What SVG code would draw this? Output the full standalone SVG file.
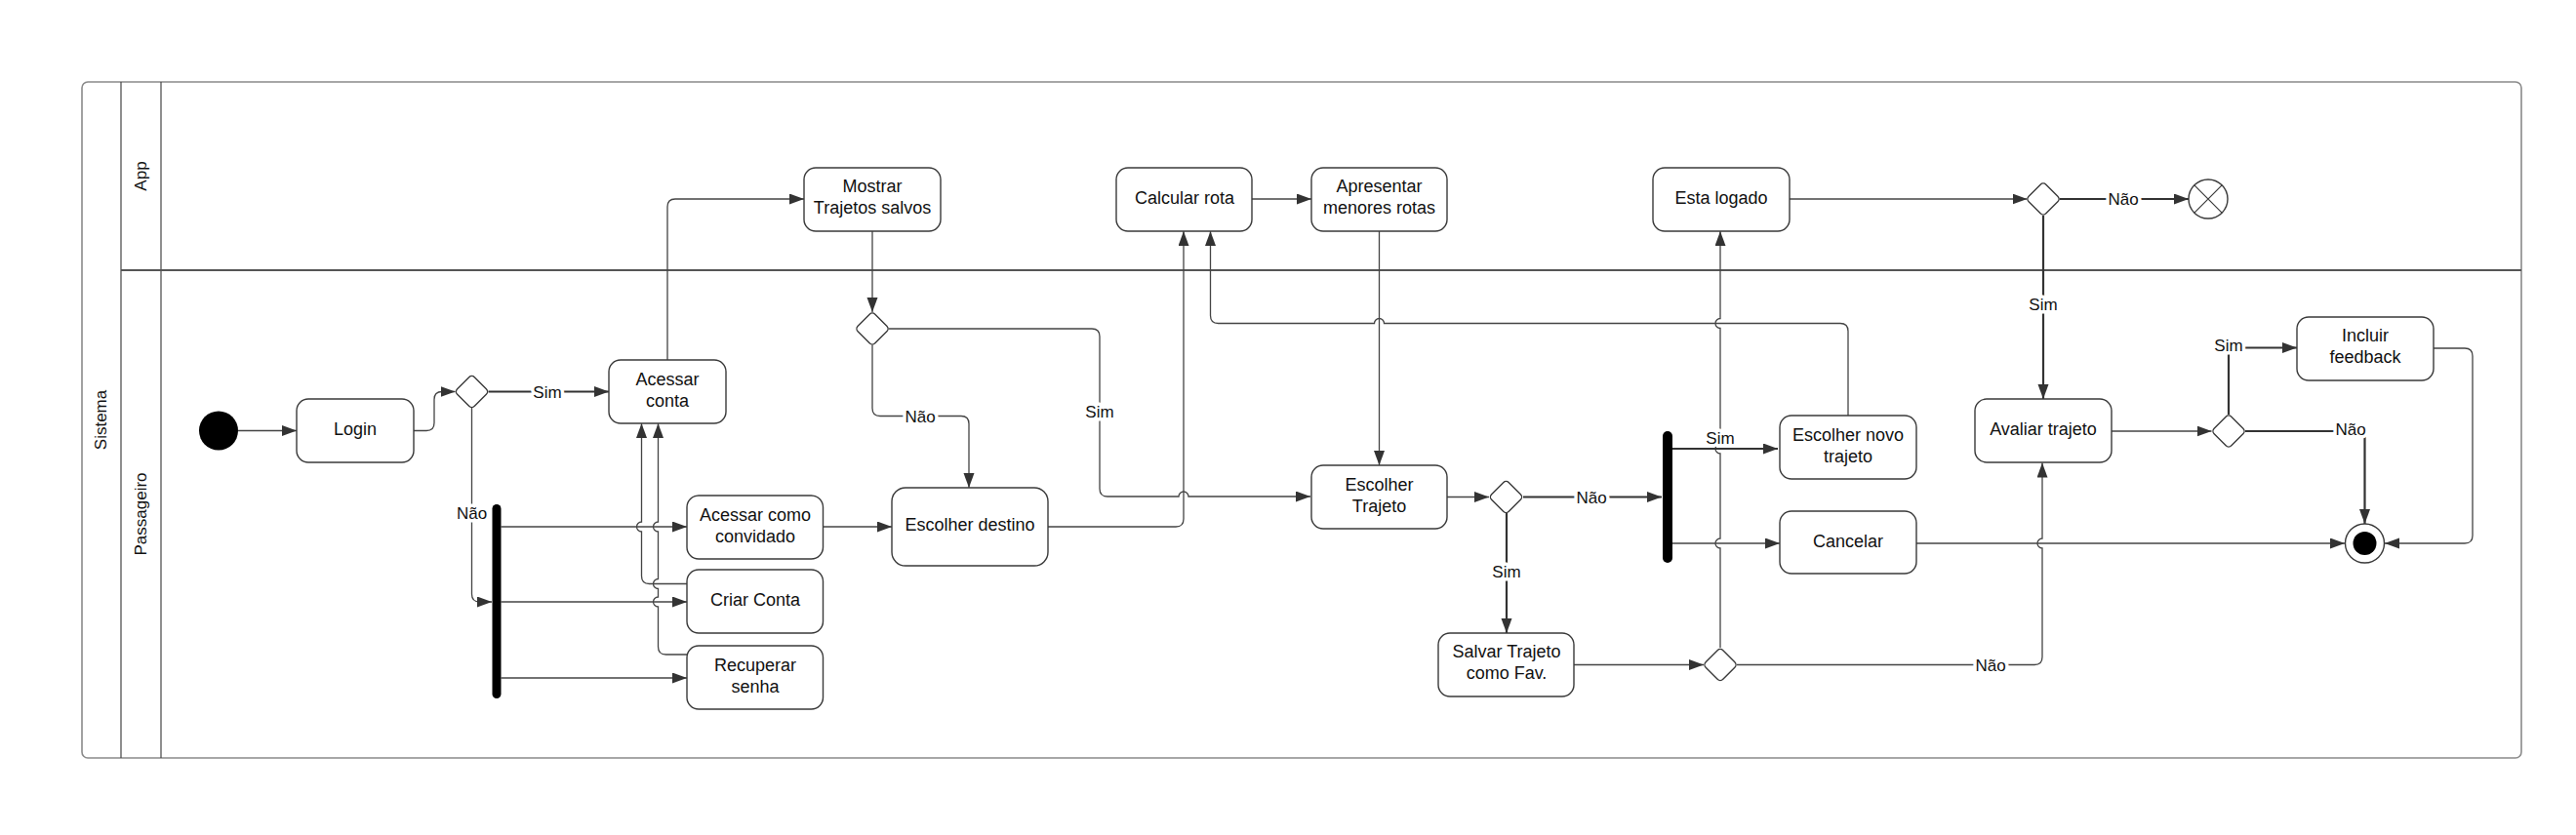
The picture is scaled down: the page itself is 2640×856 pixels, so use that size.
<svg xmlns="http://www.w3.org/2000/svg" width="2640" height="856" viewBox="0 0 2640 856">
<style>
.bg{fill:#fff}
.frame{fill:none;stroke:#8a8a8a;stroke-width:1.6}
.sep{stroke:#444;stroke-width:1.2}
.lane{stroke:#555;stroke-width:2}
.box{fill:#fff;stroke:#3a3a3a;stroke-width:1.4}
.dia{fill:#fff;stroke:#3a3a3a;stroke-width:1.4}
.t{font-family:"Liberation Sans",Arial,sans-serif;font-size:18px;fill:#111;text-anchor:middle}
.hd{font-family:"Liberation Sans",Arial,sans-serif;font-size:17px;fill:#111;text-anchor:middle}
.lbl{font-family:"Liberation Sans",Arial,sans-serif;font-size:17px;fill:#111;text-anchor:middle;paint-order:stroke;stroke:#fff;stroke-width:7px;stroke-linejoin:round}
.c{fill:none;stroke:#444;stroke-width:1.3}
.ck{fill:none;stroke:#333;stroke-width:2.2}
.bar{fill:#000}
</style>
<defs>
<marker id="ah" markerUnits="userSpaceOnUse" markerWidth="16" markerHeight="12" refX="15" refY="5.5" orient="auto">
<path d="M0,0 L15,5.5 L0,11 z" fill="#333"/>
</marker>
</defs>
<rect class="bg" x="0" y="0" width="2640" height="856"/>

<g id="pool">
<rect class="frame" x="84" y="84" width="2500" height="693" rx="6"/>
<line class="sep" x1="124" y1="84" x2="124" y2="777"/>
<line class="sep" x1="165" y1="84" x2="165" y2="777"/>
<line class="lane" x1="124" y1="277" x2="2584" y2="277"/>
<text class="hd" transform="translate(109,430.5) rotate(-90)">Sistema</text>
<text class="hd" transform="translate(150,180.5) rotate(-90)">App</text>
<text class="hd" transform="translate(150,527) rotate(-90)">Passageiro</text>
</g>

<g id="connectors">
<path class="c" d="M244,441.5 H304" marker-end="url(#ah)"/>
<path class="c" d="M424,441.5 H437 Q445,441.5 445,433.5 V409.5 Q445,401.5 453,401.5 H466.5" marker-end="url(#ah)"/>
<path class="ck" d="M500.5,401.5 H624" marker-end="url(#ah)"/>
<path class="c" d="M483.5,418 V609 Q483.5,617 491.5,617 H504" marker-end="url(#ah)"/>
<path class="c" d="M513.5,540 H704" marker-end="url(#ah)"/>
<path class="c" d="M513.5,617 H704" marker-end="url(#ah)"/>
<path class="c" d="M513.5,695 H704" marker-end="url(#ah)"/>
<path class="c" d="M704,598.5 H665.5 Q657.5,598.5 657.5,590.5 V545 A5,5 0 0 1 657.5,535 V434" marker-end="url(#ah)"/>
<path class="c" d="M704,671 H682.5 Q674.5,671 674.5,663 V622 A5,5 0 0 1 674.5,612 V603.5 A5,5 0 0 1 674.5,593.5 V545 A5,5 0 0 1 674.5,535 V434" marker-end="url(#ah)"/>
<path class="c" d="M684,369 V212 Q684,204 692,204 H824" marker-end="url(#ah)"/>
<path class="c" d="M894,237 V320" marker-end="url(#ah)"/>
<path class="c" d="M910.5,337 H1119 Q1127,337 1127,345 V501 Q1127,509 1135,509 H1208 A5,5 0 0 1 1218,509 H1343" marker-end="url(#ah)"/>
<path class="c" d="M894,353.5 V418.5 Q894,426.5 902,426.5 H985 Q993,426.5 993,434.5 V500" marker-end="url(#ah)"/>
<path class="c" d="M843.5,540 H914" marker-end="url(#ah)"/>
<path class="c" d="M1074,540 H1205 Q1213,540 1213,532 V237" marker-end="url(#ah)"/>
<path class="c" d="M1283,204 H1344" marker-end="url(#ah)"/>
<path class="c" d="M1413.5,237 V477" marker-end="url(#ah)"/>
<path class="c" d="M1483,509.5 H1526" marker-end="url(#ah)"/>
<path class="ck" d="M1561,509.5 H1703" marker-end="url(#ah)"/>
<path class="ck" d="M1544,526 V649" marker-end="url(#ah)"/>
<path class="c" d="M1613,681.5 H1746" marker-end="url(#ah)"/>
<path class="c" d="M1763,664 V562 A5,5 0 0 1 1763,552 V465 A5,5 0 0 1 1763,455 V336.5 A5,5 0 0 1 1763,326.5 V237" marker-end="url(#ah)"/>
<path class="c" d="M1780,681.5 H2085 Q2093,681.5 2093,673.5 V562 A5,5 0 0 1 2093,552 V474.5" marker-end="url(#ah)"/>
<path class="ck" d="M1714,460 H1822" marker-end="url(#ah)"/>
<path class="c" d="M1714,557 H1824" marker-end="url(#ah)"/>
<path class="c" d="M1894,426 V339.5 Q1894,331.5 1886,331.5 H1418.5 A5,5 0 0 0 1408.5,331.5 H1248.5 Q1240.5,331.5 1240.5,323.5 V237" marker-end="url(#ah)"/>
<path class="c" d="M1834,204 H2077.5" marker-end="url(#ah)"/>
<path class="ck" d="M2110.5,204 H2243" marker-end="url(#ah)"/>
<path class="ck" d="M2094,221 V409" marker-end="url(#ah)"/>
<path class="c" d="M2164,442 H2266.5" marker-end="url(#ah)"/>
<path class="ck" d="M2284,425 V356.5 H2354" marker-end="url(#ah)"/>
<path class="ck" d="M2301,442 H2423.5 V537" marker-end="url(#ah)"/>
<path class="c" d="M2494,357 H2526 Q2534,357 2534,365 V549 Q2534,557 2526,557 H2444" marker-end="url(#ah)"/>
<path class="c" d="M1964,557 H2403" marker-end="url(#ah)"/>
<text class="lbl" x="561" y="407.5">Sim</text>
<text class="lbl" x="483.5" y="532">Não</text>
<text class="lbl" x="1127" y="427.5">Sim</text>
<text class="lbl" x="943" y="432.5">Não</text>
<text class="lbl" x="1631" y="515.5">Não</text>
<text class="lbl" x="1544" y="592">Sim</text>
<text class="lbl" x="1763" y="455">Sim</text>
<text class="lbl" x="2040" y="687.5">Não</text>
<text class="lbl" x="2176" y="210">Não</text>
<text class="lbl" x="2094" y="318">Sim</text>
<text class="lbl" x="2284" y="360">Sim</text>
<text class="lbl" x="2409" y="446">Não</text>
</g>

<g id="start"><circle cx="224" cy="441.5" r="20" fill="#000"/></g>
<g id="login"><rect class="box" x="304" y="409" width="120" height="65" rx="12"/><text class="t" x="364" y="446">Login</text></g>
<g id="d1"><rect class="dia" x="471" y="389" width="25" height="25" rx="4" transform="rotate(45 483.5 401.5)"/></g>
<g id="acessar-conta"><rect class="box" x="624" y="369" width="120" height="65" rx="12"/><text class="t" x="684" y="394.5">Acessar</text><text class="t" x="684" y="416.5">conta</text></g>
<g id="bar1"><rect class="bar" x="504.5" y="517" width="9" height="199" rx="4.5"/></g>
<g id="convidado"><rect class="box" x="704" y="508" width="139.5" height="65" rx="12"/><text class="t" x="774" y="533.5">Acessar como</text><text class="t" x="774" y="555.5">convidado</text></g>
<g id="criar-conta"><rect class="box" x="704" y="584" width="139.5" height="65" rx="12"/><text class="t" x="774" y="620.5">Criar Conta</text></g>
<g id="recuperar"><rect class="box" x="704" y="662" width="139.5" height="65" rx="12"/><text class="t" x="774" y="687.5">Recuperar</text><text class="t" x="774" y="709.5">senha</text></g>
<g id="mostrar"><rect class="box" x="824" y="172" width="140" height="65" rx="12"/><text class="t" x="894" y="197">Mostrar</text><text class="t" x="894" y="219">Trajetos salvos</text></g>
<g id="d2"><rect class="dia" x="881.5" y="324.5" width="25" height="25" rx="4" transform="rotate(45 894 337)"/></g>
<g id="escolher-destino"><rect class="box" x="914" y="500" width="160" height="80" rx="14"/><text class="t" x="994" y="544">Escolher destino</text></g>
<g id="calcular"><rect class="box" x="1144" y="172" width="139" height="65" rx="12"/><text class="t" x="1214" y="208.5">Calcular rota</text></g>
<g id="apresentar"><rect class="box" x="1344" y="172" width="139" height="65" rx="12"/><text class="t" x="1413.5" y="197">Apresentar</text><text class="t" x="1413.5" y="219">menores rotas</text></g>
<g id="escolher-trajeto"><rect class="box" x="1344" y="477" width="139" height="65" rx="12"/><text class="t" x="1413.5" y="502.5">Escolher</text><text class="t" x="1413.5" y="524.5">Trajeto</text></g>
<g id="d3"><rect class="dia" x="1531" y="497" width="25" height="25" rx="4" transform="rotate(45 1543.5 509.5)"/></g>
<g id="salvar"><rect class="box" x="1474" y="649" width="139" height="65" rx="12"/><text class="t" x="1544" y="674">Salvar Trajeto</text><text class="t" x="1544" y="696">como Fav.</text></g>
<g id="d4"><rect class="dia" x="1750.5" y="669" width="25" height="25" rx="4" transform="rotate(45 1763 681.5)"/></g>
<g id="bar2"><rect class="bar" x="1704" y="442" width="10" height="135" rx="5"/></g>
<g id="esta-logado"><rect class="box" x="1694" y="172" width="140" height="65" rx="12"/><text class="t" x="1764" y="208.5">Esta logado</text></g>
<g id="escolher-novo"><rect class="box" x="1824" y="426" width="140" height="65" rx="12"/><text class="t" x="1894" y="451.5">Escolher novo</text><text class="t" x="1894" y="473.5">trajeto</text></g>
<g id="cancelar"><rect class="box" x="1824" y="524" width="140" height="64" rx="12"/><text class="t" x="1894" y="560.5">Cancelar</text></g>
<g id="d5"><rect class="dia" x="2081.5" y="191.5" width="25" height="25" rx="4" transform="rotate(45 2094 204)"/></g>
<g id="flow-final"><circle cx="2263" cy="204" r="20" fill="#fff" stroke="#3a3a3a" stroke-width="1.4"/><path d="M2248.9,189.9 L2277.1,218.1 M2277.1,189.9 L2248.9,218.1" stroke="#3a3a3a" stroke-width="1.2"/></g>
<g id="avaliar"><rect class="box" x="2024" y="409" width="140" height="65" rx="12"/><text class="t" x="2094" y="446">Avaliar trajeto</text></g>
<g id="d6"><rect class="dia" x="2271.5" y="429.5" width="25" height="25" rx="4" transform="rotate(45 2284 442)"/></g>
<g id="incluir"><rect class="box" x="2354" y="325" width="140" height="65" rx="12"/><text class="t" x="2424" y="350">Incluir</text><text class="t" x="2424" y="372">feedback</text></g>
<g id="final"><circle cx="2423.5" cy="557" r="20" fill="#fff" stroke="#3a3a3a" stroke-width="1.4"/><circle cx="2423.5" cy="557" r="12" fill="#000"/></g>
</svg>
